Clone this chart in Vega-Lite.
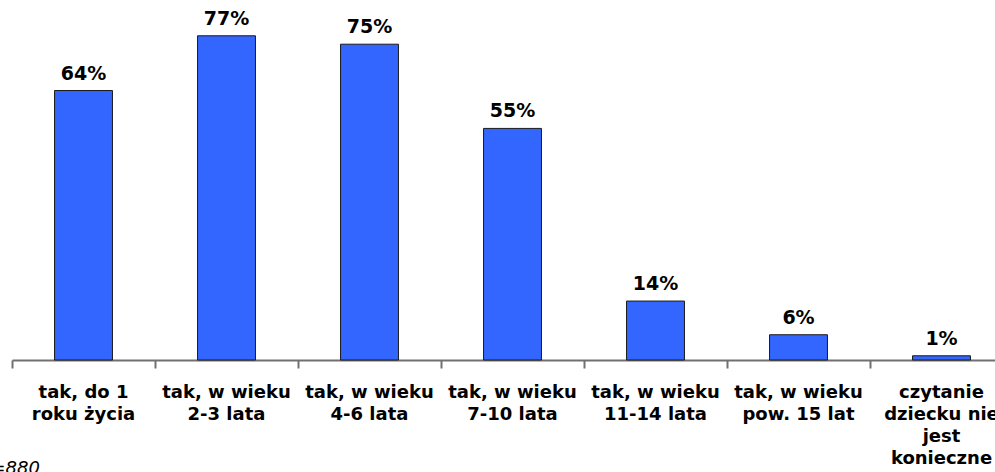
{
  "$schema": "https://vega.github.io/schema/vega-lite/v6.json",
  "autosize": "none",
  "width": 1001,
  "height": 360,
  "padding": {"left": 12, "top": 0, "right": 0, "bottom": 112},
  "background": "white",
  "title": {
    "text": "N=880",
    "orient": "bottom",
    "anchor": "start",
    "frame": "group",
    "font": "DejaVu Sans",
    "fontSize": 18,
    "fontStyle": "italic",
    "fontWeight": "normal",
    "color": "#000000",
    "baseline": "alphabetic",
    "dx": -35,
    "offset": 7
  },
  "data": {
    "values": [
      {"kat": "tak, do 1|roku życia", "v": 0.64},
      {"kat": "tak, w wieku|2-3 lata", "v": 0.77},
      {"kat": "tak, w wieku|4-6 lata", "v": 0.75},
      {"kat": "tak, w wieku|7-10 lata", "v": 0.55},
      {"kat": "tak, w wieku|11-14 lata", "v": 0.14},
      {"kat": "tak, w wieku|pow. 15 lat", "v": 0.06},
      {"kat": "czytanie|dziecku nie|jest|konieczne", "v": 0.01}
    ]
  },
  "encoding": {
    "x": {
      "field": "kat",
      "type": "nominal",
      "sort": null,
      "scale": {"paddingInner": 0, "paddingOuter": 0},
      "axis": {
        "title": null,
        "labelAngle": 0,
        "labelExpr": "split(datum.label, '|')",
        "labelFont": "DejaVu Sans",
        "labelFontWeight": "bold",
        "labelFontSize": 18,
        "labelColor": "#000000",
        "labelLineHeight": 22,
        "labelBaseline": "top",
        "labelPadding": 15,
        "labelLimit": 0,
        "labelOverlap": false,
        "labelBound": false,
        "bandPosition": 0,
        "tickSize": 8,
        "tickColor": "#707070",
        "domainColor": "#707070",
        "tickWidth": 2,
        "domainWidth": 2,
        "grid": false
      }
    },
    "y": {
      "field": "v",
      "type": "quantitative",
      "scale": {"domain": [0, 0.855], "nice": false},
      "axis": null
    }
  },
  "layer": [
    {
      "mark": {"type": "bar", "width": {"band": 0.405}, "color": "#3366FF", "stroke": "#1a1a1a", "strokeWidth": 1}
    },
    {
      "mark": {"type": "text", "baseline": "alphabetic", "dy": -11, "font": "DejaVu Sans", "fontWeight": "bold", "fontSize": 19, "color": "#000000"},
      "encoding": {"text": {"field": "v", "type": "quantitative", "format": ".0%"}}
    }
  ],
  "config": {"view": {"stroke": null}}
}
